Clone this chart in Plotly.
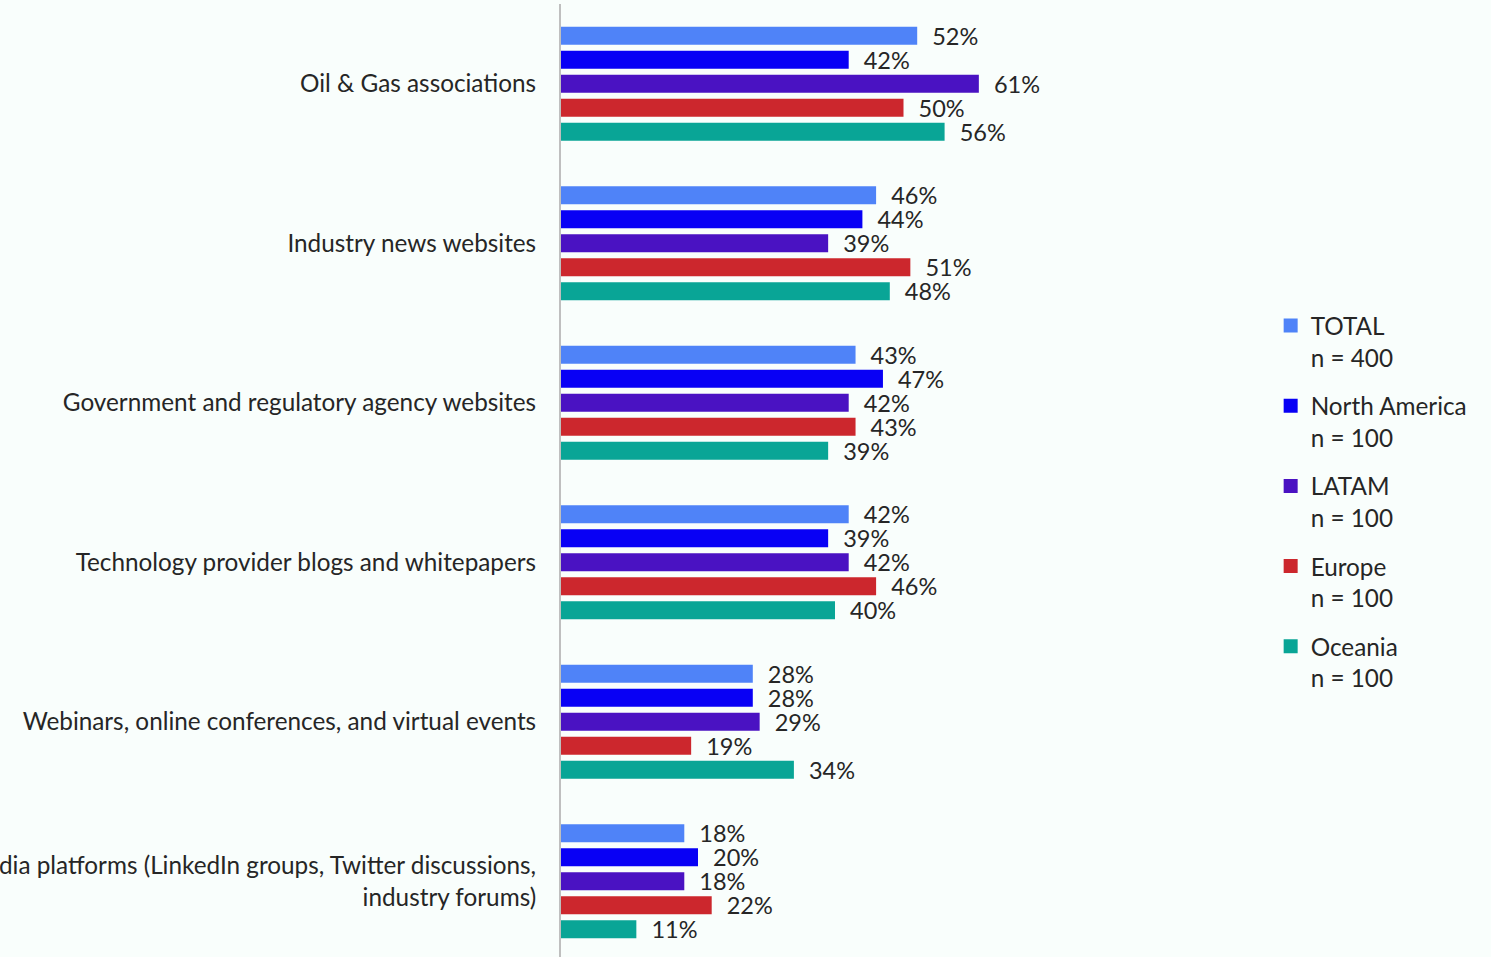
import plotly.graph_objects as go

# Information sources by region (share of respondents, %)
categories = [
    "Oil & Gas associations",
    "Industry news websites",
    "Government and regulatory agency websites",
    "Technology provider blogs and whitepapers",
    "Webinars, online conferences, and virtual events",
    "Social media platforms (LinkedIn groups, Twitter discussions,<br>industry forums)",
]

total = [52, 46, 43, 42, 28, 18]
north_america = [42, 44, 47, 39, 28, 20]
latam = [61, 39, 42, 42, 29, 18]
europe = [50, 51, 43, 46, 19, 22]
oceania = [56, 48, 39, 40, 34, 11]

series_names = ["TOTAL<br>n = 400", "North America<br>n = 100", "LATAM<br>n = 100",
                "Europe<br>n = 100", "Oceania<br>n = 100"]
series_values = [total, north_america, latam, europe, oceania]
series_colors = ["#4f83f8", "#0800f5", "#4a12c2", "#cc272d", "#09a596"]

FONT = "Lato"
TEXT_COLOR = "#262626"
LABEL_SIZE = 24.3

fig = go.Figure()
for i, (name, vals, color) in enumerate(zip(series_names, series_values, series_colors)):
    fig.add_trace(go.Bar(
        y=categories,
        x=vals,
        name=name,
        orientation="h",
        marker=dict(color=color, line=dict(width=0)),
        texttemplate="\u00a0\u00a0%{x}%",
        textposition="outside",
        constraintext="none",
        cliponaxis=False,
        textfont=dict(family=FONT, size=23.5, color=TEXT_COLOR),
        showlegend=False,
    ))

# Legend entries with square swatches
for i, (name, color) in enumerate(zip(series_names, series_colors)):
    fig.add_trace(go.Scatter(
        x=[None], y=[None],
        mode="markers",
        name=name,
        marker=dict(symbol="square", size=14, color=color),
        legendgroup=f"g{i}",
        showlegend=True,
    ))

fig.update_layout(
    width=1491,
    height=957,
    barmode="group",
    bargap=0.248,
    bargroupgap=0.25,
    paper_bgcolor="#f9fefc",
    plot_bgcolor="#f9fefc",
    margin=dict(l=561, r=245, t=4, b=0),
    font=dict(family=FONT, size=LABEL_SIZE, color=TEXT_COLOR),
    showlegend=True,
    legend=dict(
        x=1.036, xanchor="left", xref="paper",
        y=0.686, yanchor="top",
        traceorder="grouped",
        tracegroupgap=14,
        valign="top",
        font=dict(family=FONT, size=LABEL_SIZE, color=TEXT_COLOR),
        bgcolor="rgba(0,0,0,0)",
        itemwidth=30,
        itemsizing="trace",
    ),
    xaxis=dict(
        range=[0, 100],
        showgrid=False,
        zeroline=False,
        showticklabels=False,
        showline=False,
        automargin=False,
    ),
    yaxis=dict(
        range=[5.475, -0.5],
        showgrid=False,
        showline=True,
        linecolor="#bfbfbf",
        linewidth=2,
        ticks="",
        ticklabelstandoff=18,
        automargin=False,
        tickfont=dict(family=FONT, size=LABEL_SIZE, color=TEXT_COLOR),
    ),
)

fig.write_html("out.html")
